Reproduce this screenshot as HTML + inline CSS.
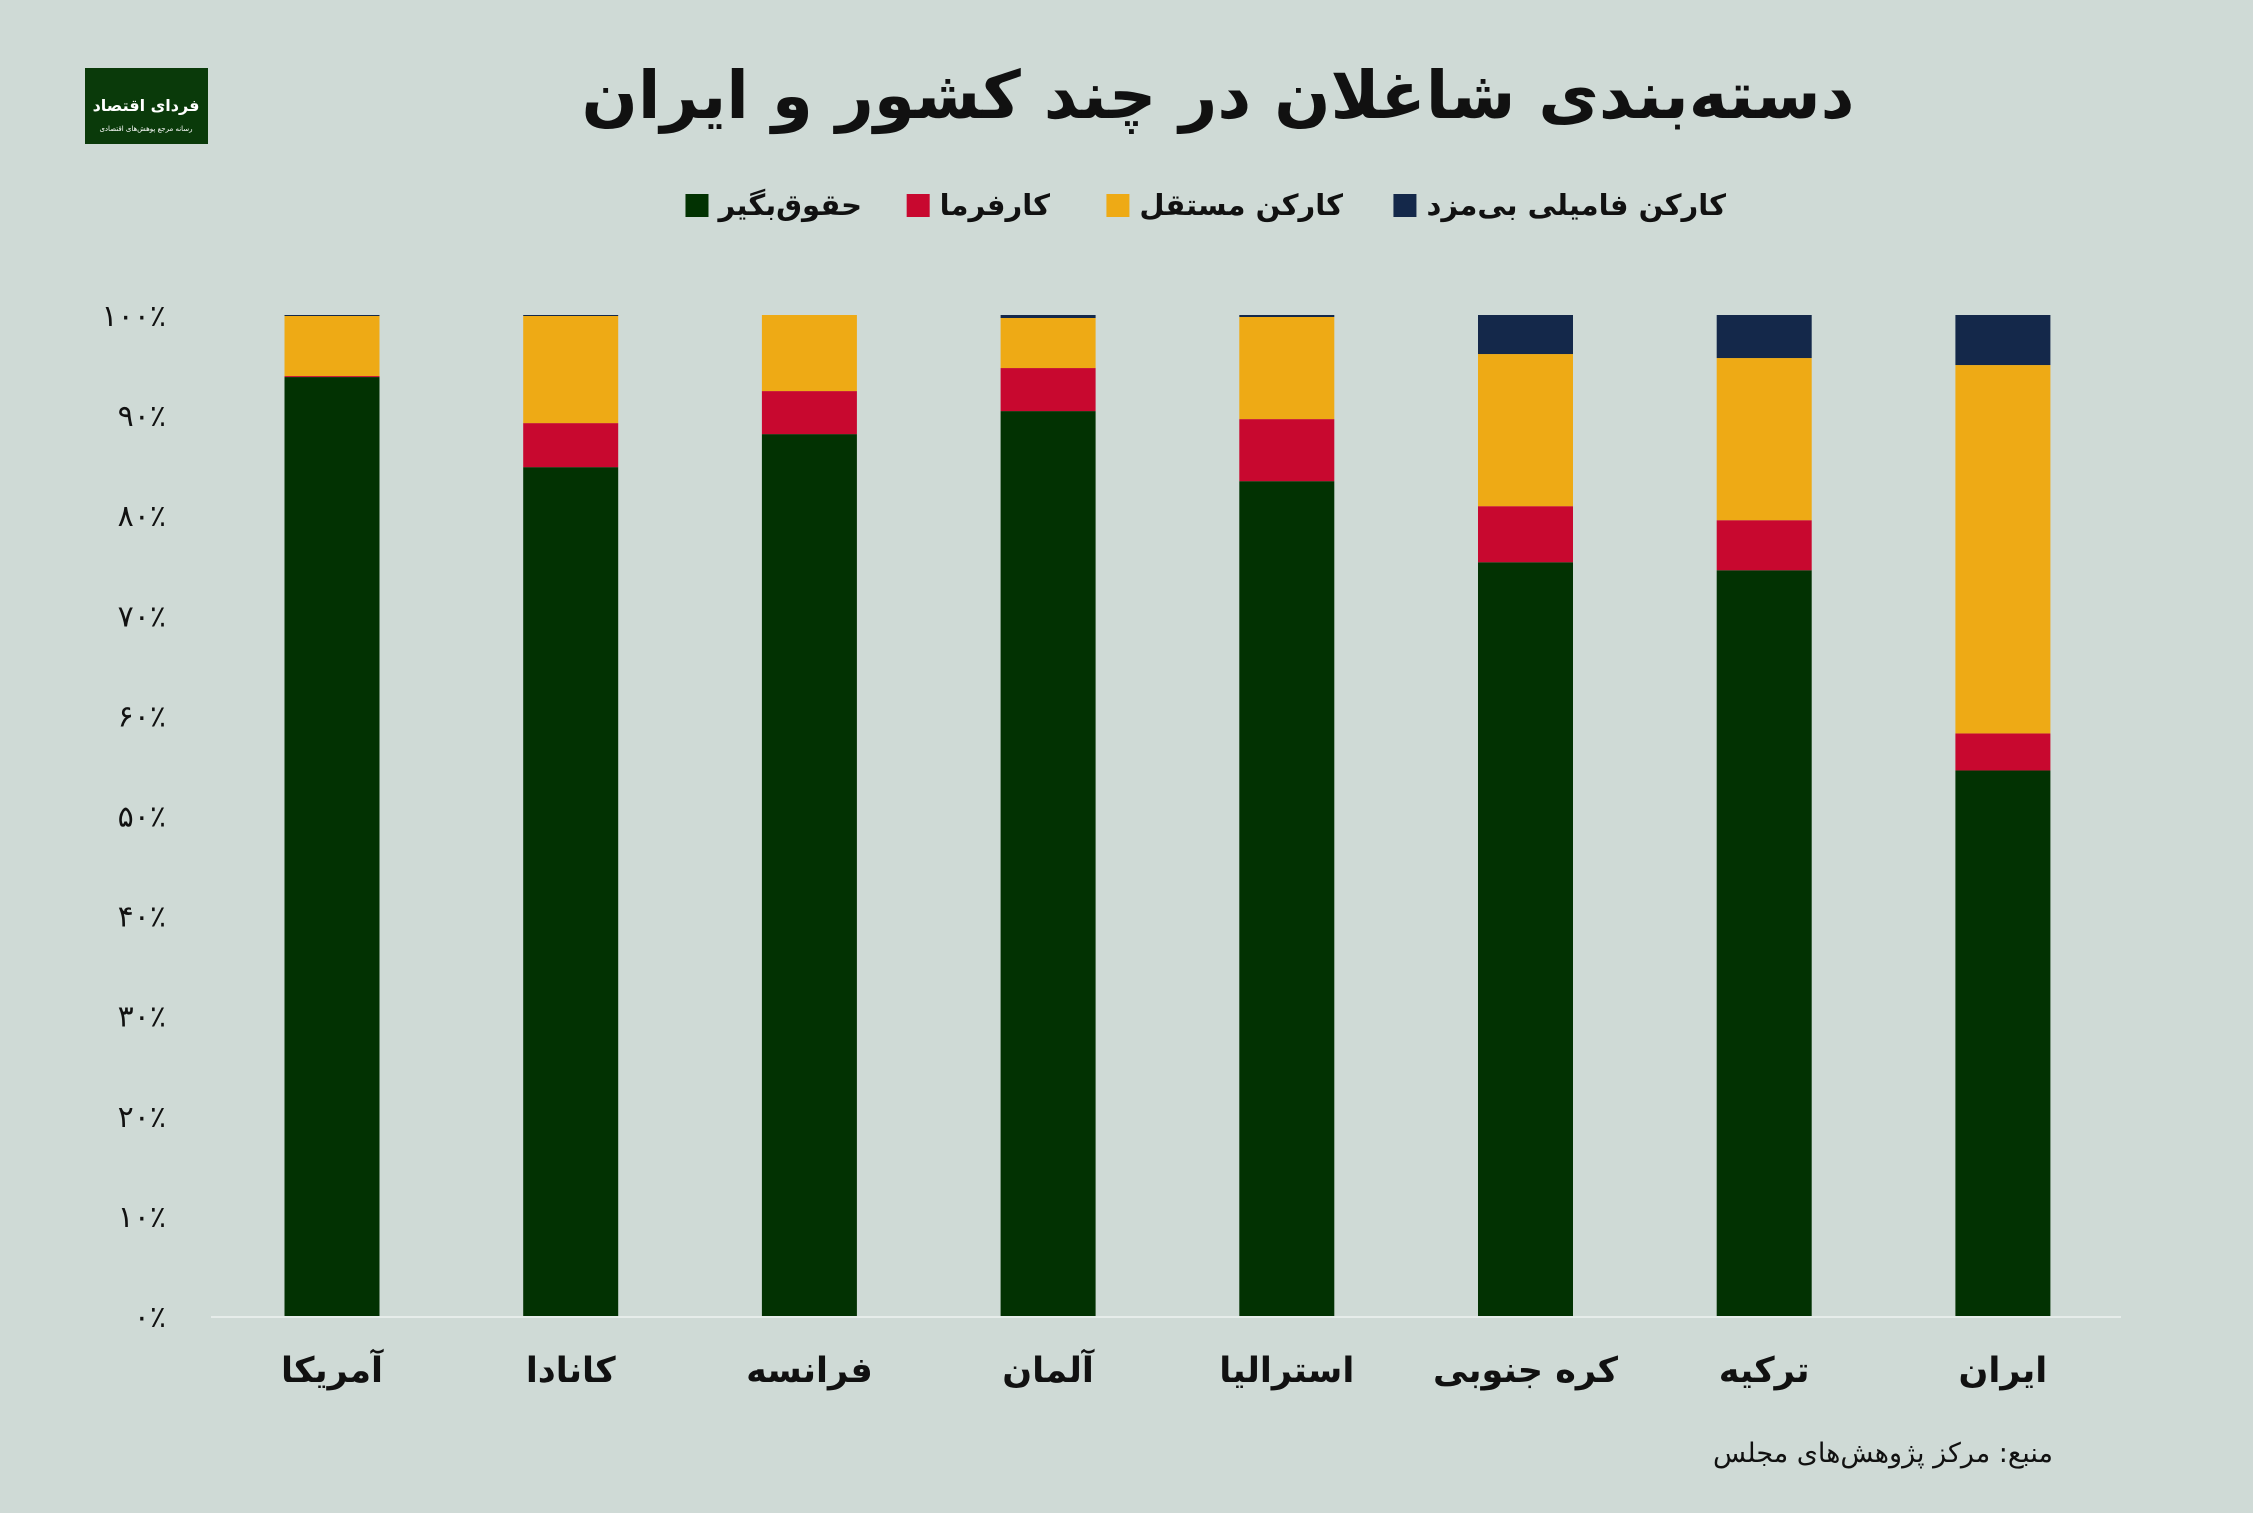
<!DOCTYPE html>
<html><head><meta charset="utf-8">
<style>
html,body{margin:0;padding:0;background:#cfdad6;}
svg{display:block;font-family:"DejaVu Sans","Liberation Sans",sans-serif;}
</style></head>
<body>
<svg id="chart" width="2253" height="1513" viewBox="0 0 2253 1513" xmlns="http://www.w3.org/2000/svg">
<rect width="2253" height="1513" fill="#cfdad6"/>
<g>
<rect x="85" y="68" width="123" height="76" fill="#0a3a0a"/>
<text x="146" y="111" fill="#fff" font-size="16" font-weight="bold" text-anchor="middle">فردای اقتصاد</text>
<text x="146" y="131" fill="#fff" font-size="7" text-anchor="middle">رسانه مرجع پوهش‌های اقتصادی</text>
</g>
<text x="1218" y="118" font-size="66" font-weight="bold" text-anchor="middle" direction="rtl" fill="#111">دسته‌بندی شاغلان در چند کشور و ایران</text>
<g id="legend"></g>
<g id="yaxis"></g>
<g id="bars"></g>
<g id="xaxis"></g>
<line x1="211" y1="1317" x2="2121" y2="1317" stroke="#e6ecea" stroke-width="2"/>
<text x="2053" y="1462" font-size="27" text-anchor="start" direction="rtl" fill="#111">منبع: مرکز پژوهش‌های مجلس</text>
</svg>
<script>
const categories = ["آمریکا","کانادا","فرانسه","آلمان","استرالیا","کره جنوبی","ترکیه","ایران"];
const salaried = [93.8,84.8,88.1,90.4,83.4,75.3,74.5,54.5];
const employer = [0.1,4.4,4.3,4.3,6.2,5.6,5.0,3.7];
const selfEmployed = [6.0,10.7,7.6,5.0,10.2,15.2,16.2,36.8];
const familyWorker = [0.1,0.1,0.0,0.3,0.2,3.9,4.3,5.0];
const seriesNames = ["حقوق‌بگیر","کارفرما","کارکن مستقل","کارکن فامیلی بی‌مزد"];
const yTicks = [0,10,20,30,40,50,60,70,80,90,100];

const colors = ["#023202","#c8082f","#eeaa15","#14284a"];
const NS = "http://www.w3.org/2000/svg";
const y0 = 1316, y1 = 315;
const yScale = v => y0 - (v/100)*(y0-y1);
const xCenter = i => 332 + i*238.7;
const barW = 95;
const fa = n => String(n).replace(/[0-9]/g, d => "۰۱۲۳۴۵۶۷۸۹"[d]);
function mk(tag, attrs, parent){const e=document.createElementNS(NS,tag);for(const k in attrs)e.setAttribute(k,attrs[k]);parent.appendChild(e);return e;}

const yaxis = document.getElementById("yaxis");
yTicks.forEach(t=>{
  const e = mk("text",{x:166,y:yScale(t)+11,"font-size":30,"text-anchor":"end",fill:"#111"},yaxis);
  
  
  e.textContent = fa(t)+"٪";
});

const barsG = document.getElementById("bars");
const series = [salaried, employer, selfEmployed, familyWorker];
const segNames = ["salaried","employer","self-employed","family-worker"];
categories.forEach((c,i)=>{
  let base = 0;
  series.forEach((s,k)=>{
    const v = s[i];
    if (v<=0) return;
    const r = mk("rect",{x:xCenter(i)-barW/2,y:yScale(base+v),width:barW,height:yScale(base)-yScale(base+v),fill:colors[k]},barsG);
    
    
    base += v;
  });
  const lbl = mk("text",{x:xCenter(i),y:1382,"font-size":35,"font-weight":"bold","text-anchor":"middle",direction:"rtl",fill:"#111"},document.getElementById("xaxis"));
  
  
  lbl.textContent = c;
});

const legend = document.getElementById("legend");
const legendRight = [862,1050,1343,1726];
seriesNames.forEach((n,k)=>{
  const t = mk("text",{x:legendRight[k],y:215,"font-size":29,"font-weight":"bold","text-anchor":"start",direction:"rtl",fill:"#111"},legend);
  
  
  t.textContent = n;
  const w = t.getComputedTextLength();
  const sq = mk("rect",{x:legendRight[k]-w-10-23,y:194,width:23,height:23,fill:colors[k]},legend);
  
  
});
</script>
</body></html>
